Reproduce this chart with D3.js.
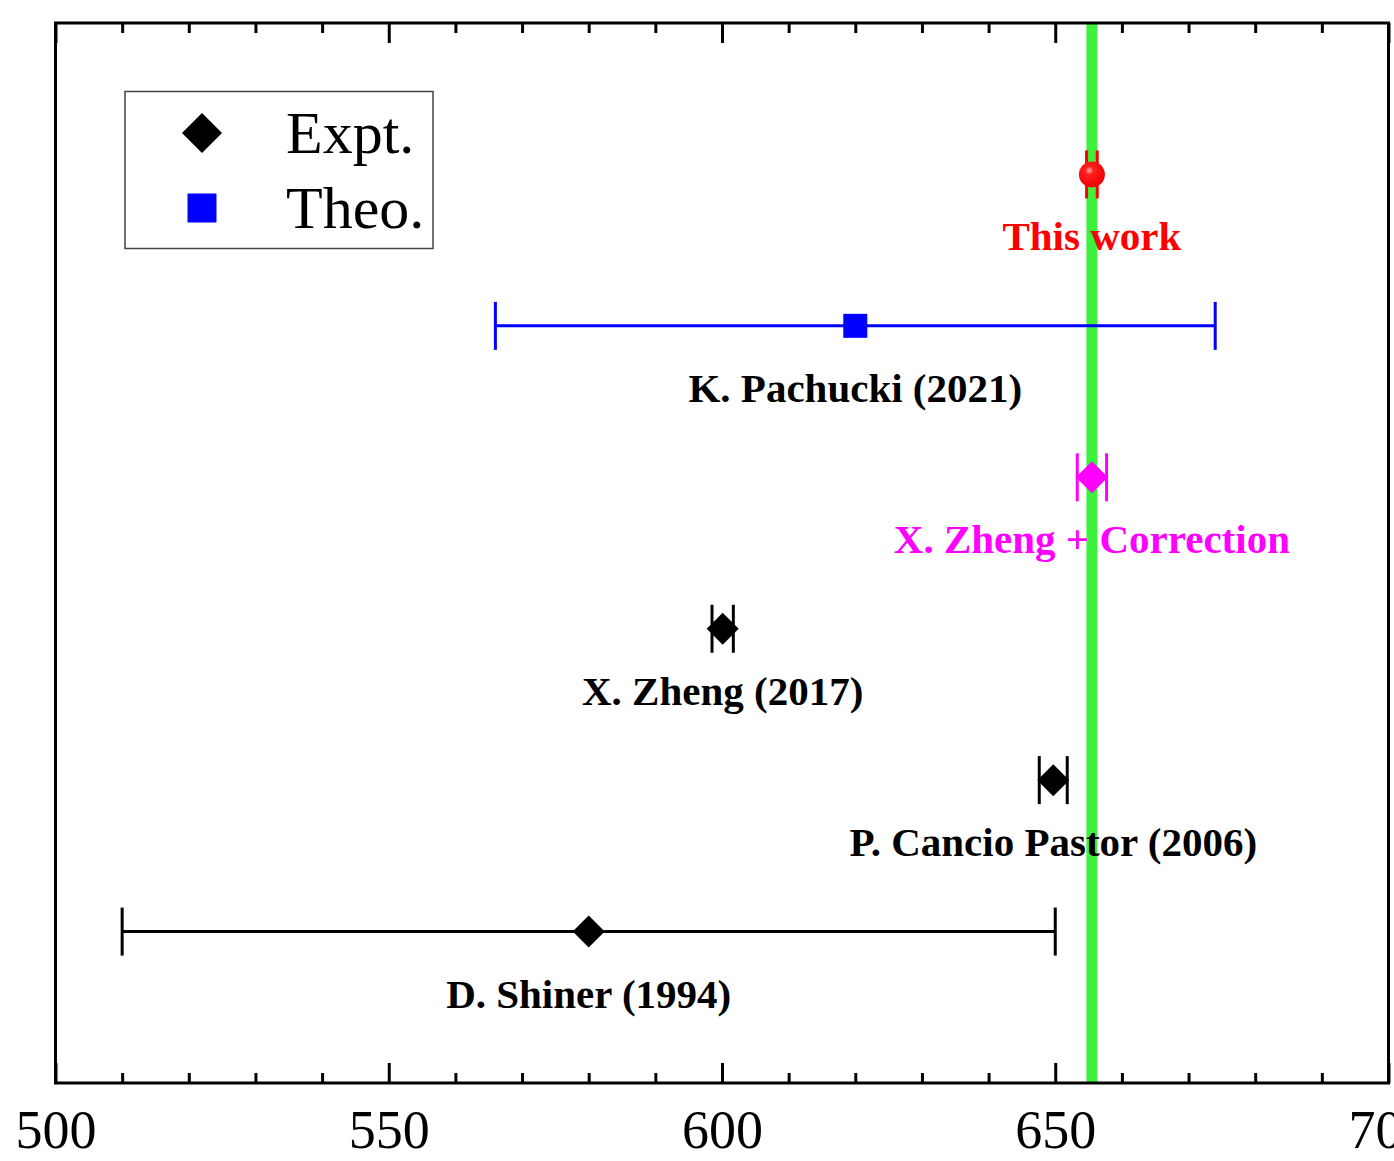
<!DOCTYPE html>
<html>
<head>
<meta charset="utf-8">
<script src="https://cdn.jsdelivr.net/npm/d3@7"></script>
<style>
  html, body { margin: 0; padding: 0; background: #fff; }
  svg { display: block; }
</style>
</head>
<body>
<svg id="chart" width="1394" height="1161"></svg>
<script>
// ---------------- data ----------------
const labels   = ["This work", "K. Pachucki (2021)", "X. Zheng + Correction", "X. Zheng (2017)", "P. Cancio Pastor (2006)", "D. Shiner (1994)"];
const values   = [655.5, 620.0, 655.5, 600.1, 649.7, 580.0];
const errors   = [0.8, 54.0, 2.2, 1.6, 2.1, 70.0];
const rows     = [6, 5, 4, 3, 2, 1];
const kinds    = ["circle", "square", "diamond", "diamond", "diamond", "diamond"];
const colors   = ["#ff0000", "#0000ff", "#ff00ff", "#000000", "#000000", "#000000"];
const labelColors = ["#ff0000", "#000000", "#ff00ff", "#000000", "#000000", "#000000"];
const bandValue = 655.5;
const majorTicks = [500, 550, 600, 650, 700];
const minorTicks = [510, 520, 530, 540, 560, 570, 580, 590, 610, 620, 630, 640, 660, 670, 680, 690];
const legendLabels = ["Expt.", "Theo."];
const legendKinds  = ["diamond", "square"];
const legendColors = ["#000000", "#0000ff"];

(function () {
// ---------------- layout ----------------
const svg = d3.select("#chart");
const pLeft = 55.5, pRight = 1388.5, pTop = 23, pBottom = 1083;
const x = d3.scaleLinear().domain([500, 700]).range([pLeft, pRight]);
const y = d3.scaleLinear().domain([0, 7]).range([pBottom, pTop]);
const serif = "'Times New Roman', 'Liberation Serif', 'DejaVu Serif', serif";

svg.append("rect").attr("width", 1394).attr("height", 1161).attr("fill", "#fff");

// axes
const axMajor = svg.append("g").attr("transform", `translate(0,${pBottom})`)
  .call(d3.axisBottom(x).tickValues(majorTicks).tickSize(-20).tickPadding(27).tickFormat(d3.format("d")));
const axMinor = svg.append("g").attr("transform", `translate(0,${pBottom})`)
  .call(d3.axisBottom(x).tickValues(minorTicks).tickSize(-10).tickFormat(""));
const axTopMajor = svg.append("g").attr("transform", `translate(0,${pTop})`)
  .call(d3.axisTop(x).tickValues(majorTicks).tickSize(-20).tickFormat(""));
const axTopMinor = svg.append("g").attr("transform", `translate(0,${pTop})`)
  .call(d3.axisTop(x).tickValues(minorTicks).tickSize(-10).tickFormat(""));
[axMajor, axMinor, axTopMajor, axTopMinor].forEach(g => {
  g.select(".domain").remove();
  g.selectAll(".tick line").attr("stroke", "#000").attr("stroke-width", 3);
});
axMajor.selectAll(".tick text")
  .attr("fill", "#000").attr("font-family", serif).attr("font-size", 54);

// green reference band
svg.append("line")
  .attr("x1", x(bandValue)).attr("x2", x(bandValue))
  .attr("y1", pTop).attr("y2", pBottom)
  .attr("stroke", "#3cf23c").attr("stroke-width", 11);

// labels under points
svg.append("g").selectAll("text").data(labels).join("text")
  .attr("x", (d, i) => x(values[i]))
  .attr("y", (d, i) => y(rows[i]) + 76)
  .attr("text-anchor", "middle")
  .attr("font-family", serif).attr("font-weight", "bold").attr("font-size", 41)
  .attr("fill", (d, i) => labelColors[i])
  .text(d => d);

// error bars
const eb = svg.append("g").selectAll("g").data(values).join("g")
  .attr("stroke", (d, i) => colors[i]).attr("stroke-width", 3).attr("fill", "none");
eb.append("line")
  .attr("x1", (d, i) => x(d - errors[i])).attr("x2", (d, i) => x(d + errors[i]))
  .attr("y1", (d, i) => y(rows[i])).attr("y2", (d, i) => y(rows[i]));
eb.append("line")
  .attr("x1", (d, i) => x(d - errors[i])).attr("x2", (d, i) => x(d - errors[i]))
  .attr("y1", (d, i) => y(rows[i]) - 24).attr("y2", (d, i) => y(rows[i]) + 24);
eb.append("line")
  .attr("x1", (d, i) => x(d + errors[i])).attr("x2", (d, i) => x(d + errors[i]))
  .attr("y1", (d, i) => y(rows[i]) - 24).attr("y2", (d, i) => y(rows[i]) + 24);

// gradient for the ball marker
const defs = svg.append("defs");
const rg = defs.append("radialGradient").attr("id", "ball").attr("cx", "40%").attr("cy", "35%").attr("r", "65%");
rg.append("stop").attr("offset", "0%").attr("stop-color", "#ffb0b0");
rg.append("stop").attr("offset", "25%").attr("stop-color", "#ff2020");
rg.append("stop").attr("offset", "100%").attr("stop-color", "#ee0000");

function marker(sel, kind, color, scale) {
  if (kind === "circle") {
    sel.append("circle").attr("r", 13 * scale).attr("fill", "url(#ball)");
  } else if (kind === "square") {
    sel.append("path").attr("d", d3.symbol(d3.symbolSquare, 576 * scale * scale)()).attr("fill", color);
  } else {
    sel.append("path").attr("d", d3.symbol(d3.symbolSquare, 512 * scale * scale)())
      .attr("transform", "rotate(45)").attr("fill", color);
  }
}

svg.append("g").selectAll("g").data(values).join("g")
  .attr("transform", (d, i) => `translate(${x(d)},${y(rows[i])})`)
  .each(function (d, i) { marker(d3.select(this), kinds[i], colors[i], 1); });

// frame
svg.append("rect")
  .attr("x", pLeft).attr("y", pTop).attr("width", pRight - pLeft).attr("height", pBottom - pTop)
  .attr("fill", "none").attr("stroke", "#000").attr("stroke-width", 3);

// legend
const lg = svg.append("g");
lg.append("rect").attr("x", 125).attr("y", 91.5).attr("width", 308).attr("height", 157)
  .attr("fill", "#fff").attr("stroke", "#444").attr("stroke-width", 1.5);
const li = lg.selectAll("g").data(legendLabels).join("g")
  .attr("transform", (d, i) => `translate(202,${133 + i * 75})`);
li.each(function (d, i) {
  const g = d3.select(this);
  if (legendKinds[i] === "diamond") {
    g.append("path").attr("d", d3.symbol(d3.symbolSquare, 800)()).attr("transform", "rotate(45)").attr("fill", legendColors[i]);
  } else {
    g.append("path").attr("d", d3.symbol(d3.symbolSquare, 841)()).attr("fill", legendColors[i]);
  }
});
li.append("text").attr("x", 84).attr("y", 20)
  .attr("font-family", serif).attr("font-size", 60).attr("fill", "#000")
  .text(d => d);
})();
</script>
</body>
</html>
